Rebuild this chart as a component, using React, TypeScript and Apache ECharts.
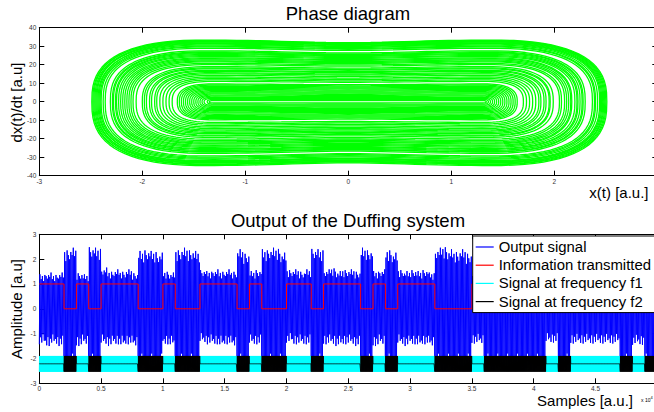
import React, { useEffect, useRef } from "react";
import * as echarts from "echarts";

const FONT = "'Liberation Sans', Arial, Helvetica, sans-serif";

// ---------- Phase diagram: traced orbits (turning points / peak velocities)
const orbitLeft = [
  -2.49, -2.48, -2.47, -2.46, -2.45, -2.44, -2.43, -2.42, -2.41, -2.4, -2.38, -2.36,
  -2.31, -2.29, -2.28, -2.26, -2.25, -2.23, -2.21, -2.19, -2.17, -2.15, -2.13, -2.11, -2.09, -2.06,
  -2.0, -1.98, -1.96, -1.93, -1.91, -1.88, -1.86, -1.83, -1.8, -1.77, -1.74, -1.71,
  -1.66, -1.64, -1.62, -1.6, -1.58, -1.56, -1.54, -1.52, -1.5, -1.48, -1.46, -1.44, -1.42, -1.4, -1.37, -1.35,
];
const orbitRight = [
  2.51, 2.49, 2.5, 2.47, 2.46, 2.48, 2.44, 2.45, 2.42, 2.4, 2.39, 2.37,
  2.3, 2.28, 2.27, 2.25, 2.23, 2.22, 2.2, 2.17, 2.16, 2.14, 2.12, 2.1, 2.07, 2.05,
  1.99, 1.96, 1.95, 1.92, 1.9, 1.87, 1.85, 1.82, 1.79, 1.76, 1.73, 1.7,
  1.64, 1.62, 1.6, 1.58, 1.56, 1.54, 1.52, 1.5, 1.48, 1.46, 1.44, 1.42, 1.4, 1.38, 1.36, 1.34,
];
const orbitTop = [
  33.4, 32.9, 33.1, 32.3, 31.9, 32.6, 31.2, 31.6, 30.7, 30.1, 29.7, 29.0,
  27.6, 27.0, 26.6, 26.1, 25.6, 25.0, 24.5, 23.8, 23.3, 22.7, 22.1, 21.6, 20.8, 20.1,
  19.0, 18.3, 17.8, 17.0, 16.5, 15.7, 15.1, 14.3, 13.4, 12.6, 11.8, 11.0,
  9.6, 9.0, 8.4, 7.8, 7.2, 6.6, 6.0, 5.4, 4.8, 4.2, 3.6, 3.0, 2.4, 1.8, 1.2, 0.6,
];
const orbitBottom = [
  34.6, 33.7, 34.1, 33.2, 32.5, 33.0, 31.9, 32.2, 31.2, 30.6, 30.0, 29.4,
  28.0, 27.3, 27.0, 26.4, 25.8, 25.4, 24.7, 24.1, 23.6, 22.9, 22.4, 21.8, 21.1, 20.3,
  19.3, 18.5, 18.1, 17.3, 16.6, 15.9, 15.3, 14.5, 13.7, 12.8, 12.0, 11.2,
  9.8, 9.2, 8.6, 8.0, 7.4, 6.8, 6.1, 5.5, 4.9, 4.3, 3.7, 3.1, 2.5, 1.9, 1.3, 0.7,
];

// ---------- Duffing output
const bitSamples = 1000;
const infoBits = [
  1, 1, 0, 1, 0, 1, 1, 1, 0, 0,
  1, 0, 0, 1, 1, 1, 0, 1, 0, 0,
  1, 1, 0, 1, 1, 1, 0, 1, 0, 1,
  1, 1, 0, 0, 0, 1, 0, 0, 0, 0,
  0, 1, 0, 1, 1, 1, 1, 0, 1, 0,
];
const envelopeCell = 500;
const outputUpper = [
  1.39, 1.46, 1.39, 1.46, 2.4, 2.46, 1.46, 1.39, 2.53, 2.46,
  1.66, 1.52, 1.59, 1.52, 1.59, 1.46, 2.33, 2.4, 2.33, 2.26,
  1.52, 1.46, 2.4, 2.46, 2.4, 2.33, 1.59, 1.52, 1.59, 1.52,
  1.59, 1.52, 2.4, 2.26, 1.52, 1.59, 2.4, 2.46, 2.46, 2.26,
  1.59, 1.59, 1.52, 1.59, 2.46, 2.4, 1.59, 1.66, 1.52, 1.59,
  1.59, 1.52, 2.46, 2.4, 1.52, 1.59, 2.4, 2.26, 1.59, 1.52,
  1.59, 1.52, 1.59, 1.46, 2.46, 2.53, 2.4, 2.33, 2.4, 2.26,
  1.5, 1.5, 2.4, 2.4, 2.4, 2.4, 2.4, 2.4, 2.4, 2.4,
  2.4, 2.4, 1.5, 1.5, 2.4, 2.4, 1.5, 1.5, 1.5, 1.5,
  1.5, 1.5, 1.5, 1.5, 2.4, 2.4, 1.5, 1.5, 2.4, 2.4,
];
const outputLower = [
  -1.43, -1.5, -1.43, -1.5, -2.5, -2.5, -1.5, -1.43, -2.5, -2.5,
  -1.43, -1.5, -1.43, -1.5, -1.43, -1.5, -2.5, -2.5, -2.5, -2.5,
  -1.43, -1.5, -2.5, -2.5, -2.5, -2.5, -1.36, -1.43, -1.43, -1.5,
  -1.43, -1.5, -2.5, -2.5, -1.43, -1.43, -2.5, -2.5, -2.5, -2.5,
  -1.36, -1.43, -1.43, -1.43, -2.5, -2.5, -1.43, -1.43, -1.5, -1.43,
  -1.43, -1.5, -2.5, -2.5, -1.5, -1.43, -2.5, -2.5, -1.43, -1.5,
  -1.43, -1.5, -1.43, -1.5, -2.5, -2.5, -2.5, -2.5, -2.5, -2.5,
  -1.4, -1.4, -2.5, -2.5, -2.5, -2.5, -2.5, -2.5, -2.5, -2.5,
  -2.5, -2.5, -1.36, -1.36, -2.5, -2.5, -1.4, -1.4, -1.4, -1.4,
  -1.4, -1.4, -1.4, -1.4, -2.5, -2.5, -1.45, -1.45, -2.5, -2.5,
];
const spikeTop = [1, 0.86, 0.95, 0.8, 0.98, 0.9, 0.83, 0.93, 0.88];
const spikeBottom = [1, 0.8, 0.95, 0.72, 0.9, 0.85, 0.98, 0.76];
const carrierCenter = -2.215;
const carrierAmplitude = 0.315;

const legendNames = [
  "Output signal",
  "Information transmitted",
  "Signal at frequency f1",
  "Signal at frequency f2",
];

// ---------- builders
const ARC_CENTER = 1.3;
const ARC_EXP = 2.7;
const DIP = 0.045;
const FLAT_N = 24;
const ARC_N = 40;

function orbitPath(xl: number, xr: number, top: number, bot: number) {
  const cR = Math.min(ARC_CENTER, xr - 0.03);
  const cL = Math.max(-ARC_CENTER, xl + 0.03);
  const rR = xr - cR;
  const rL = cL - xl;
  const dip = (x: number) => 1 - DIP * Math.exp(-(x * x) / 0.6);
  const sp = (v: number) => Math.sign(v) * Math.pow(Math.abs(v), 2 / ARC_EXP);
  const pts: number[][] = [];
  for (let i = 0; i <= FLAT_N; i++) {
    const x = cL + ((cR - cL) * i) / FLAT_N;
    pts.push([x, top * dip(x)]);
  }
  for (let i = 1; i <= ARC_N; i++) {
    const th = Math.PI / 2 - (Math.PI * i) / ARC_N;
    const x = cR + rR * sp(Math.cos(th));
    const s = Math.sin(th);
    pts.push([x, (s >= 0 ? top : bot) * sp(s) * dip(x)]);
  }
  for (let i = 1; i <= FLAT_N; i++) {
    const x = cR - ((cR - cL) * i) / FLAT_N;
    pts.push([x, -bot * dip(x)]);
  }
  for (let i = 1; i <= ARC_N; i++) {
    const th = -Math.PI / 2 - (Math.PI * i) / ARC_N;
    const x = cL + rL * sp(Math.cos(th));
    const s = Math.sin(th);
    pts.push([x, (s >= 0 ? top : bot) * sp(s) * dip(x)]);
  }
  return pts;
}

const TOTAL = infoBits.length * bitSamples;

function buildOutput() {
  const d: number[][] = [];
  const step = 50;
  for (let i = 0, x = 0; x <= TOTAL; i++, x += step) {
    const cell = Math.min(outputUpper.length - 1, Math.floor(x / envelopeCell));
    const k = i >> 1;
    const y =
      i % 2 === 1
        ? outputUpper[cell] * spikeTop[k % spikeTop.length]
        : outputLower[cell] * spikeBottom[k % spikeBottom.length];
    d.push([x, y]);
  }
  return d;
}

function buildInfo() {
  const d: number[][] = [];
  infoBits.forEach((b, k) => {
    d.push([k * bitSamples, b], [(k + 1) * bitSamples, b]);
  });
  return d;
}

function buildCarrier(activeBit: number) {
  const d: number[][] = [];
  const step = 20;
  for (let i = 0, x = 0; x <= TOTAL; i++, x += step) {
    const k = Math.min(infoBits.length - 1, Math.floor(x / bitSamples));
    const on = infoBits[k] === activeBit;
    d.push([x, on ? carrierCenter + (i % 2 ? carrierAmplitude : -carrierAmplitude) : carrierCenter]);
  }
  return d;
}

const labelStyle = { fontSize: 6.5, color: "#333", fontFamily: FONT };
const axisLine = { show: true, onZero: false, lineStyle: { color: "#000", width: 1 } };
const tickIn = { show: true, inside: true, length: 5, lineStyle: { color: "#000", width: 1 } };

function txt(text: string, x: number, y: number, fontSize: number, align: string, extra: any = {}) {
  return {
    type: "text",
    x,
    y,
    silent: true,
    ...extra,
    style: {
      text,
      fontSize,
      fontFamily: FONT,
      fill: "#000",
      align,
      verticalAlign: "middle",
      textAlign: align,
      textVerticalAlign: "middle",
    },
  };
}

function buildOption() {
  const phaseSeries = orbitLeft.map((xl, i) => ({
    type: "line",
    name: "phase" + i,
    xAxisIndex: 0,
    yAxisIndex: 0,
    data: orbitPath(xl, orbitRight[i], orbitTop[i], orbitBottom[i]),
    showSymbol: false,
    symbol: "none",
    silent: true,
    clip: true,
    lineStyle: { color: "#00ff00", width: 1.3 },
    color: "#00ff00",
  }));

  const sig = (name: string, data: number[][], color: string, width: number) => ({
    type: "line",
    name,
    xAxisIndex: 2,
    yAxisIndex: 2,
    data,
    showSymbol: false,
    symbol: "none",
    silent: true,
    clip: true,
    color,
    lineStyle: { color, width },
  });

  return {
    animation: false,
    backgroundColor: "#fff",
    grid: [
      { left: 39.3, top: 27.7, width: 618, height: 148, outerBoundsMode: "none", containLabel: false },
      { left: 39.3, top: 234.3, width: 618, height: 149, outerBoundsMode: "none", containLabel: false },
    ],
    xAxis: [
      {
        gridIndex: 0, type: "value", min: -3, max: 3, interval: 1, position: "bottom",
        axisLine, axisTick: tickIn, splitLine: { show: false },
        axisLabel: { ...labelStyle, margin: 2, showMaxLabel: false },
      },
      {
        gridIndex: 0, type: "value", min: -3, max: 3, interval: 1, position: "top",
        axisLine, axisTick: tickIn, splitLine: { show: false }, axisLabel: { show: false },
      },
      {
        gridIndex: 1, type: "value", min: 0, max: TOTAL, interval: 5000, position: "bottom",
        axisLine, axisTick: tickIn, splitLine: { show: false },
        axisLabel: { ...labelStyle, margin: 2, showMaxLabel: false, formatter: (v: number) => String(v / 10000) },
      },
      {
        gridIndex: 1, type: "value", min: 0, max: TOTAL, interval: 5000, position: "top",
        axisLine, axisTick: tickIn, splitLine: { show: false }, axisLabel: { show: false },
      },
    ],
    yAxis: [
      {
        gridIndex: 0, type: "value", min: -40, max: 40, interval: 10, position: "left",
        axisLine, axisTick: tickIn, splitLine: { show: false },
        axisLabel: { ...labelStyle, margin: 3 },
      },
      {
        gridIndex: 0, type: "value", min: -40, max: 40, interval: 10, position: "right",
        axisLine, axisTick: tickIn, splitLine: { show: false }, axisLabel: { show: false },
      },
      {
        gridIndex: 1, type: "value", min: -3, max: 3, interval: 1, position: "left",
        axisLine, axisTick: tickIn, splitLine: { show: false },
        axisLabel: { ...labelStyle, margin: 3 },
      },
      {
        gridIndex: 1, type: "value", min: -3, max: 3, interval: 1, position: "right",
        axisLine, axisTick: tickIn, splitLine: { show: false }, axisLabel: { show: false },
      },
    ],
    legend: {
      data: legendNames,
      orient: "vertical",
      left: 472.7,
      top: 236,
      backgroundColor: "#fff",
      borderColor: "#000",
      borderWidth: 1,
      borderRadius: 0,
      padding: [3, 8, 3, 3],
      itemGap: 2.2,
      itemWidth: 18,
      itemHeight: 1.2,
      icon: "rect",
      selectedMode: false,
      textStyle: { fontSize: 14.9, color: "#000", fontFamily: FONT, lineHeight: 16 },
    },
    series: [
      ...phaseSeries,
      sig(legendNames[0], buildOutput(), "#0000ff", 1),
      sig(legendNames[1], buildInfo(), "#ff0000", 1),
      sig(legendNames[2], buildCarrier(1), "#00ffff", 1),
      sig(legendNames[3], buildCarrier(0), "#000000", 0.8),
    ],
    graphic: [
      txt("Phase diagram", 348, 13.4, 18.5, "center"),
      txt("Output of the Duffing system", 348, 220.7, 18.5, "center"),
      txt("dx(t)/dt [a.u]", 16.8, 102.5, 15, "center", { rotation: Math.PI / 2 }),
      txt("Amplitude [a.u]", 16.8, 309, 15, "center", { rotation: Math.PI / 2 }),
      txt("x(t) [a.u.]", 648.5, 192.3, 15, "right"),
      txt("Samples [a.u.]", 633, 400.7, 15, "right"),
      txt("x 10", 641, 400, 5, "left"),
      txt("4", 650.5, 397.5, 4, "left"),
    ],
  };
}

export default function App() {
  const ref = useRef<HTMLDivElement>(null);
  useEffect(() => {
    if (!ref.current) return;
    const chart = echarts.init(ref.current, null, { renderer: "svg" });
    chart.setOption(buildOption() as any);
    return () => chart.dispose();
  }, []);
  return (
    <div
      ref={ref}
      style={{ position: "fixed", left: 0, top: 0, width: 680, height: 412, background: "#fff" }}
    />
  );
}
